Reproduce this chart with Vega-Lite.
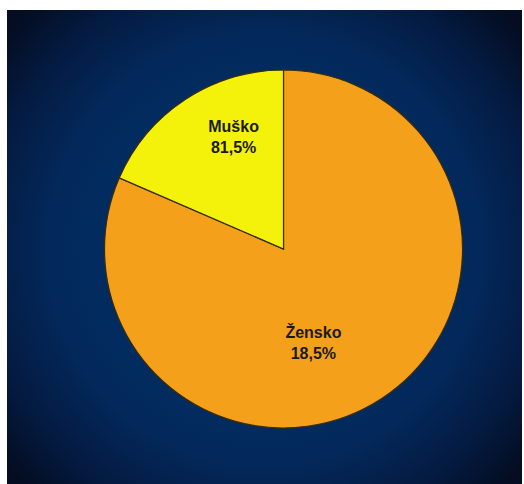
{
  "$schema": "https://vega.github.io/schema/vega-lite/v6.json",
  "autosize": {"type": "pad"},
  "padding": {"left": 7, "top": 10, "right": 2, "bottom": 0},
  "background": "#ffffff",
  "spacing": 0,
  "config": {"view": {"stroke": null}},
  "datasets": {
    "spol": [
      {"spol": "Žensko", "oznaka": "Žensko\n18,5%", "udio": 81.5, "redoslijed": 1},
      {"spol": "Muško", "oznaka": "Muško\n81,5%", "udio": 18.5, "redoslijed": 2}
    ],
    "prazno": [{"a": 1}]
  },
  "hconcat": [
    {
      "width": 38,
      "height": 478,
      "view": {
        "stroke": null,
        "fill": {"gradient": "radial", "x1": 0.998, "y1": 0.5, "r1": 0, "x2": 0.998, "y2": 0.5, "r2": 0.7,
          "stops": [
            {"offset": 0, "color": "#0a3a72"},
            {"offset": 0.45, "color": "#022d62"},
            {"offset": 0.65, "color": "#03285a"},
            {"offset": 0.85, "color": "#041a40"},
            {"offset": 1, "color": "#040d22"}
          ]}
      },
      "data": {"name": "prazno"},
      "mark": {"type": "text"},
      "encoding": {"text": {"value": ""}}
    },
    {
      "width": 477,
      "height": 478,
      "view": {
        "stroke": null,
        "fill": {"gradient": "radial", "x1": 0.46, "y1": 0.5, "r1": 0, "x2": 0.46, "y2": 0.5, "r2": 0.7,
          "stops": [
            {"offset": 0, "color": "#0a3a72"},
            {"offset": 0.45, "color": "#022d62"},
            {"offset": 0.65, "color": "#03285a"},
            {"offset": 0.85, "color": "#041a40"},
            {"offset": 1, "color": "#040d22"}
          ]}
      },
      "data": {"name": "spol"},
      "encoding": {
        "theta": {"field": "udio", "type": "quantitative", "stack": true},
        "order": {"field": "redoslijed", "type": "quantitative"}
      },
      "layer": [
        {
          "mark": {"type": "arc", "outerRadius": 179, "stroke": "#3a2c08", "strokeWidth": 1.2},
          "encoding": {
            "color": {
              "field": "spol",
              "type": "nominal",
              "scale": {"domain": ["Žensko", "Muško"], "range": ["#f4a01b", "#f4f20a"]},
              "legend": null
            }
          }
        },
        {
          "mark": {"type": "text", "radius": 110, "thetaOffset": 0.21, "dx": -10, "dy": -19, "font": "Liberation Sans", "fontWeight": "bold", "fontSize": 16, "lineBreak": "\n", "lineHeight": 21, "color": "#1a1a1a", "align": "center", "baseline": "middle"},
          "encoding": {"text": {"field": "oznaka", "type": "nominal"}}
        }
      ]
    }
  ]
}
